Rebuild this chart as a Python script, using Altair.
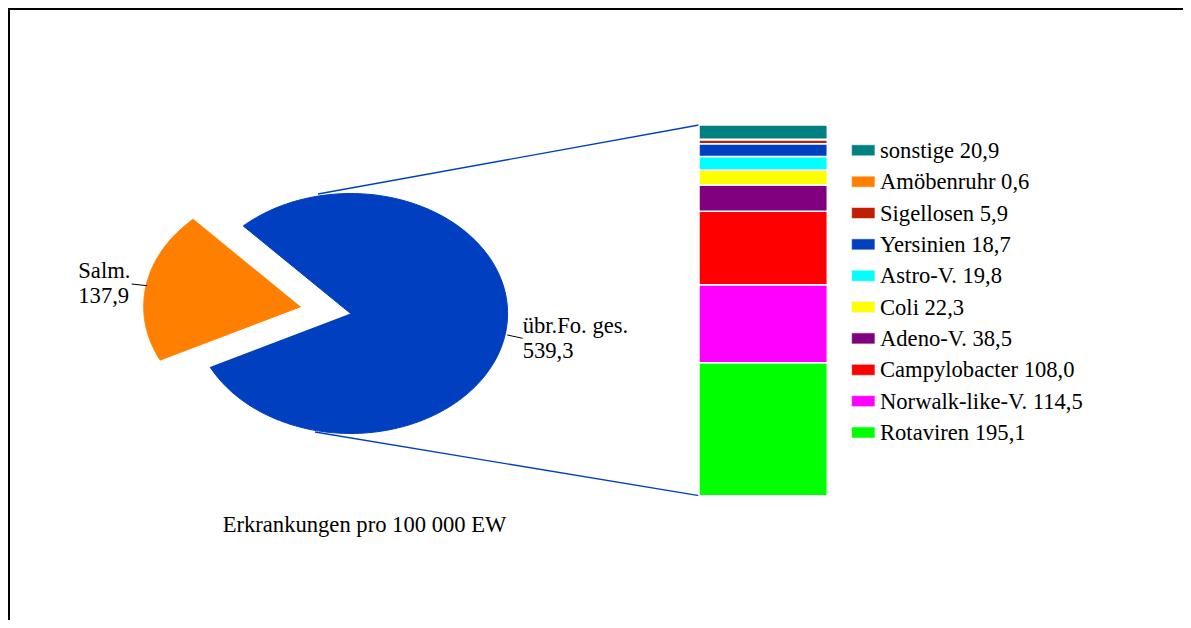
import altair as alt
import pandas as pd

# ---------------- data ----------------
pie_names = ["übr.Fo. ges.", "Salm."]
pie_values = [539.3, 137.9]
pie_colors = ["#0040C0", "#FF8000"]
pie_explode = [0.0, 0.323]

bar_names = ["Rotaviren", "Norwalk-like-V.", "Campylobacter", "Adeno-V.", "Coli",
             "Astro-V.", "Yersinien", "Sigellosen", "Amöbenruhr", "sonstige"]
bar_values = [195.1, 114.5, 108.0, 38.5, 22.3, 19.8, 18.7, 5.9, 0.6, 20.9]
bar_colors = ["#00FF00", "#FF00FF", "#FF0000", "#800080", "#FFFF00",
              "#00FFFF", "#0040C0", "#C02000", "#FF8000", "#008080"]

caption = "Erkrankungen pro 100 000 EW"

# ---------------- layout (plot pixels; page = plot + 8) ----------------
W, H = 1175, 612
CX, CY, RX, RY = 342.6, 305.5, 157.0, 120.0
START = -43.15          # degrees, clockwise from top
N = 180                 # arc resolution
BAR_X0, BAR_X1, BAR_TOP, BAR_BOTTOM = 691.0, 819.3, 117.0, 487.7
LEG_X, LEG_TEXT_X, LEG_Y0, LEG_Y1 = 855.3, 872.0, 142.3, 424.5
FONT = "Liberation Serif, Times New Roman, serif"
FS = 22.6
LINE_BLUE = "#0040C0"

pie_df = pd.DataFrame({"name": pie_names, "value": pie_values,
                       "ord": list(range(len(pie_names))), "explode": pie_explode})
bar_df = pd.DataFrame({"name": bar_names, "value": bar_values,
                       "ord": list(range(len(bar_names)))})
n_bar = len(bar_names)

comma = "replace(format(datum.value, '.1f'), '.', ',')"

# ---------------- border ----------------
border_top = alt.Chart().mark_rule(color="black", strokeWidth=2).encode(
    x=alt.value(0), x2=alt.value(W), y=alt.value(1))
border_left = alt.Chart().mark_rule(color="black", strokeWidth=2).encode(
    x=alt.value(1), y=alt.value(0), y2=alt.value(H))

# ---------------- connector lines ----------------
conn_top = alt.Chart().mark_rule(color=LINE_BLUE, strokeWidth=1.3).encode(
    x=alt.value(310), y=alt.value(186), x2=alt.value(BAR_X0), y2=alt.value(BAR_TOP))
conn_bot = alt.Chart().mark_rule(color=LINE_BLUE, strokeWidth=1.3).encode(
    x=alt.value(307), y=alt.value(424), x2=alt.value(BAR_X0), y2=alt.value(BAR_BOTTOM))

# ---------------- elliptical pie ----------------
pie = (
    alt.Chart(pie_df)
    .transform_joinaggregate(total="sum(value)")
    .transform_window(cum="sum(value)", sort=[alt.SortField("ord")], frame=[None, 0])
    .transform_calculate(
        a0=f"{START} + 360*(datum.cum - datum.value)/datum.total",
        a1=f"{START} + 360*datum.cum/datum.total",
    )
    .transform_calculate(mid="(datum.a0 + datum.a1)/2*PI/180")
    .transform_calculate(
        ox="datum.explode*sin(datum.mid)",
        oy="datum.explode*cos(datum.mid)",
        k=f"sequence(0, {N + 2})",
    )
    .transform_flatten(["k"])
    .transform_calculate(ang=f"(datum.a0 + (datum.a1 - datum.a0)*(datum.k - 1)/{N})*PI/180")
    .transform_calculate(
        px="datum.k == 0 ? datum.ox : datum.ox + sin(datum.ang)",
        py="datum.k == 0 ? datum.oy : datum.oy + cos(datum.ang)",
    )
    .mark_line(strokeWidth=1, interpolate="linear")
    .encode(
        x=alt.X("px:Q", axis=None,
                scale=alt.Scale(domain=[-1, 1], range=[CX - RX, CX + RX], nice=False, zero=False)),
        y=alt.Y("py:Q", axis=None,
                scale=alt.Scale(domain=[-1, 1], range=[CY + RY, CY - RY], nice=False, zero=False)),
        detail="name:N",
        order=alt.Order("k:Q"),
        fill=alt.Fill("name:N", scale=alt.Scale(domain=pie_names, range=pie_colors), legend=None),
        stroke=alt.Stroke("name:N", scale=alt.Scale(domain=pie_names, range=pie_colors), legend=None),
    )
)

# ---------------- stacked bar ----------------
bar = (
    alt.Chart(bar_df)
    .transform_stack(stack="value", groupby=[], as_=["v0", "v1"], sort=[alt.SortField("ord")])
    .mark_rect(stroke="white", strokeWidth=1.5)
    .encode(
        x=alt.value(BAR_X0), x2=alt.value(BAR_X1),
        y=alt.Y("v0:Q", axis=None,
                scale=alt.Scale(range=[BAR_BOTTOM, BAR_TOP], nice=False, zero=True)),
        y2="v1:Q",
        fill=alt.Fill("name:N", scale=alt.Scale(domain=bar_names, range=bar_colors), legend=None),
    )
)

# ---------------- legend ----------------
leg_base = alt.Chart(bar_df).transform_calculate(
    rank=f"{n_bar - 1} - datum.ord",
    label="datum.name + ' ' + " + comma,
)
leg_scale = alt.Scale(domain=[0, n_bar - 1], range=[LEG_Y0, LEG_Y1], nice=False, zero=False)
swatch = leg_base.mark_point(
    shape="M-1,-0.472H1V0.472H-1Z", size=23.3 ** 2, filled=True, opacity=1,
    stroke="#f4f4f4", strokeWidth=0.6
).encode(
    x=alt.value(LEG_X),
    y=alt.Y("rank:Q", axis=None, scale=leg_scale),
    fill=alt.Fill("name:N", scale=alt.Scale(domain=bar_names, range=bar_colors), legend=None),
)
leg_text = leg_base.mark_text(
    align="left", baseline="alphabetic", dy=7.5, font=FONT, fontSize=FS, color="black"
).encode(
    x=alt.value(LEG_TEXT_X),
    y=alt.Y("rank:Q", axis=None, scale=leg_scale),
    text="label:N",
)

# ---------------- pie labels ----------------
def pie_label(name, x, y1, y2):
    base = alt.Chart(pie_df).transform_filter(alt.datum.name == name).transform_calculate(vtxt=comma)
    t1 = base.mark_text(align="left", baseline="alphabetic", font=FONT, fontSize=FS, color="black").encode(
        x=alt.value(x), y=alt.value(y1), text="name:N")
    t2 = base.mark_text(align="left", baseline="alphabetic", font=FONT, fontSize=FS, color="black").encode(
        x=alt.value(x), y=alt.value(y2), text="vtxt:N")
    return [t1, t2]

salm_lbl = pie_label("Salm.", 70.3, 269.7, 295.3)
ubr_lbl = pie_label("übr.Fo. ges.", 514.7, 325.3, 350.3)

lead_salm = alt.Chart().mark_rule(color="black", strokeWidth=1).encode(
    x=alt.value(123.7), y=alt.value(276), x2=alt.value(139), y2=alt.value(277.7))
lead_ubr = alt.Chart().mark_rule(color="black", strokeWidth=1).encode(
    x=alt.value(499.3), y=alt.value(327), x2=alt.value(514.7), y2=alt.value(330.3))

cap = alt.Chart().mark_text(align="left", baseline="alphabetic", font=FONT, fontSize=FS, color="black").encode(
    x=alt.value(214.7), y=alt.value(523.7), text=alt.value(caption))

chart = (
    alt.layer(border_top, border_left, conn_top, conn_bot, pie, bar, swatch, leg_text,
              *salm_lbl, *ubr_lbl, lead_salm, lead_ubr, cap)
    .resolve_scale(x="independent", y="independent", fill="independent", stroke="independent")
    .properties(width=W, height=H, padding=0, autosize=alt.AutoSizeParams(type="none"),
                background="white")
    .configure_view(stroke=None)
)

chart.save("out.html", embed_options={"renderer": "svg", "actions": False})
